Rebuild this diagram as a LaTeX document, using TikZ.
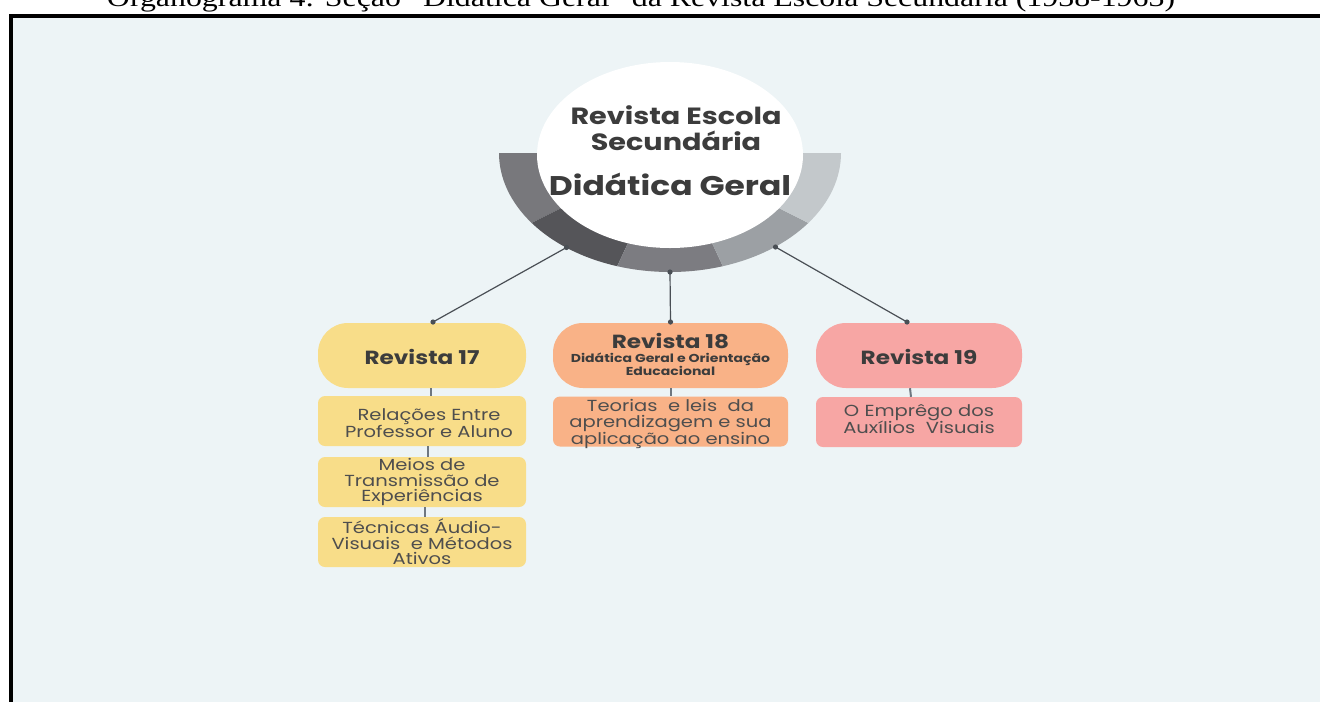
\documentclass[tikz,border=0pt]{standalone}
\usepackage{fontspec}
\usepackage{graphicx}
\setmainfont{Liberation Serif}
\newfontfamily\pop[FakeStretch=1.22]{Poppins}
\usetikzlibrary{shapes.geometric,calc}
\definecolor{bgc}{HTML}{EDF4F6}
\definecolor{segA}{HTML}{78787C}
\definecolor{segB}{HTML}{555559}
\definecolor{segC}{HTML}{7C7C81}
\definecolor{segD}{HTML}{9CA0A4}
\definecolor{segE}{HTML}{C3C8CB}
\definecolor{yel}{HTML}{F8DD89}
\definecolor{ora}{HTML}{F9B287}
\definecolor{pnk}{HTML}{F7A6A4}
\definecolor{txt}{HTML}{3C3C3C}
\definecolor{subtxt}{HTML}{4E4E4E}
\definecolor{conc}{HTML}{4A4F55}
\definecolor{subc}{HTML}{6E7780}
\tikzset{
  pill/.style={rounded corners=30pt, minimum height=65pt, inner sep=0pt, draw=none},
  subbox/.style={rounded corners=7pt, minimum height=50pt, inner sep=0pt, draw=none},
  head/.style={font=\pop\bfseries\fontsize{19}{20}\selectfont, text=txt, inner sep=0pt},
  subtext/.style={font=\pop\fontsize{16}{15.5}\selectfont, text=subtxt, align=center, inner sep=0pt},
  conn/.style={draw=conc, line width=1.2pt},
  subconn/.style={draw=subc, line width=2pt},
  dotc/.style={fill=conc}
}
\begin{document}
\begin{tikzpicture}[x=1pt,y=-1pt]
\useasboundingbox (0,0) rectangle (1320,702);
\clip (0,0) rectangle (1320,702);
% title (cut by the top edge, as in the reference)
\node[anchor=base, inner sep=0pt] (title) at (641,6)
  {\resizebox{1068pt}{\height}{\fontsize{26}{28}\selectfont Organograma 4: Seção "Didática Geral" da Revista Escola Secundária (1938-1963)}};
% frame and background
\fill[black] (9,13.5) rectangle (1320,17.5);
\fill[black] (9,13.5) rectangle (12.5,702);
\fill[bgc] (12.5,17.5) rectangle (1320,702);
% ring segments
\coordinate (rc) at (670,153);
\fill[segA] (rc) -- ++(180:171 and 119) arc[start angle=180, end angle=144, x radius=171, y radius=119] -- cycle;
\fill[segB] (rc) -- ++(144:171 and 119) arc[start angle=144, end angle=108, x radius=171, y radius=119] -- cycle;
\fill[segC] (rc) -- ++(108:171 and 119) arc[start angle=108, end angle=72, x radius=171, y radius=119] -- cycle;
\fill[segD] (rc) -- ++(72:171 and 119) arc[start angle=72, end angle=36, x radius=171, y radius=119] -- cycle;
\fill[segE] (rc) -- ++(36:171 and 119) arc[start angle=36, end angle=0, x radius=171, y radius=119] -- cycle;
% hub
\node[ellipse, fill=white, minimum width=266pt, minimum height=186pt, inner sep=0pt] (hub) at (670,155) {};
\node[font=\pop\bfseries\fontsize{23.5}{24}\selectfont, text=txt, inner sep=0pt] (hubA) at (676,115) {Revista Escola};
\node[font=\pop\bfseries\fontsize{23.5}{24}\selectfont, text=txt, inner sep=0pt] (hubB) at (676,141) {Secundária};
\node[font=\pop\bfseries\fontsize{27}{30}\selectfont, text=txt, inner sep=0pt] (hubC) at (670,184) {Didática Geral};
% main boxes
\node[pill, fill=yel, minimum width=208pt] (r17) at (422,355.5) {};
\node[head] (t17) at (422,357) {Revista 17};
\node[pill, fill=ora, minimum width=235pt] (r18) at (670.5,355.5) {};
\node[head] (t18) at (670.5,341) {Revista 18};
\node[font=\pop\bfseries\fontsize{11.5}{12}\selectfont, text=txt, align=center, inner sep=0pt] (t18s) at (670.5,364) {Didática Geral e Orientação\\Educacional};
\node[pill, fill=pnk, minimum width=206pt] (r19) at (919,355.5) {};
\node[head] (t19) at (919,357) {Revista 19};
% sub boxes
\node[subbox, fill=yel, minimum width=208pt] (s17a) at (422,421) {};
\node[subtext, font=\pop\fontsize{16}{17}\selectfont] (u17a) at (429,423) {Relações Entre\\Professor e Aluno};
\node[subbox, fill=yel, minimum width=208pt] (s17b) at (422,482) {};
\node[subtext] (u17b) at (422,482) {Meios de\\Transmissão de\\Experiências};
\node[subbox, fill=yel, minimum width=208pt] (s17c) at (422,542) {};
\node[subtext] (u17c) at (422,542) {Técnicas Áudio-\\Visuais\ \ e Métodos\\Ativos};
\node[subbox, fill=ora, minimum width=235pt] (s18) at (670.5,421.5) {};
\node[subtext] (u18) at (670.5,424) {Teorias\ \ e leis\ \ da\\aprendizagem e sua\\aplicação ao ensino};
\node[subbox, fill=pnk, minimum width=206pt] (s19) at (919,422) {};
\node[subtext] (u19) at (919,419) {O Emprêgo dos\\Auxílios\ \ Visuais};
% connectors hub -> boxes
\coordinate (d17) at (566.5,247.5);
\coordinate (d18) at (670,272);
\coordinate (d19) at (775.5,247);
\coordinate (p17) at (433,322);
\coordinate (p18) at (670.5,322);
\coordinate (p19) at (907,322);
\draw[conn] (d17) -- (p17);
\draw[conn] (d18) -- (p18);
\draw[conn] (d19) -- (p19);
\foreach \p in {d17,d18,d19,p17,p18,p19} \fill[dotc] (\p) circle (2.6pt);
% connectors box -> sub boxes
\draw[subconn] ([xshift=9pt]r17.south) -- ([xshift=9pt]s17a.north);
\draw[subconn] ([xshift=6pt]s17a.south) -- ([xshift=6pt]s17b.north);
\draw[subconn] ([xshift=3pt]s17b.south) -- ([xshift=3pt]s17c.north);
\draw[subconn] ([xshift=0.5pt]r18.south) -- ([xshift=0.5pt]s18.north);
\draw[subconn] ([xshift=-9pt]r19.south) -- ([xshift=-8pt]s19.north);
\end{tikzpicture}
\end{document}
